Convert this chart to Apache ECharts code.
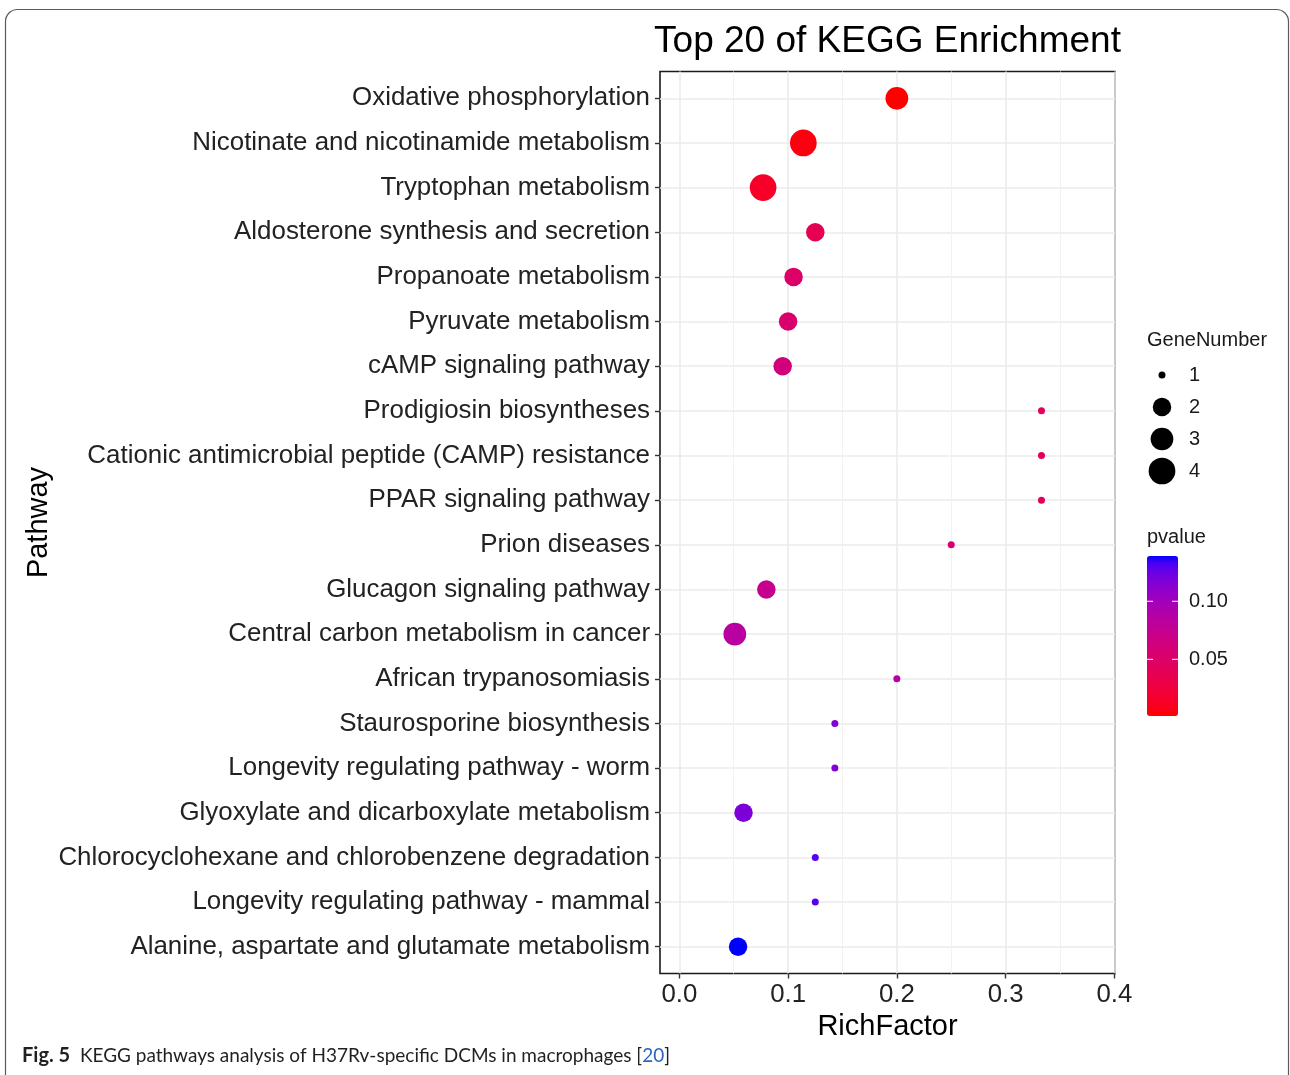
<!DOCTYPE html>
<html><head><meta charset="utf-8">
<script src="https://cdn.jsdelivr.net/npm/echarts@6/dist/echarts.min.js"></script>
<style>html,body{margin:0;padding:0;background:#fff}#c{width:1290px;height:1075px}</style>
</head><body><div id="c"></div>
<script>
// ---------- data ----------
const pathways = [
  'Oxidative phosphorylation',
  'Nicotinate and nicotinamide metabolism',
  'Tryptophan metabolism',
  'Aldosterone synthesis and secretion',
  'Propanoate metabolism',
  'Pyruvate metabolism',
  'cAMP signaling pathway',
  'Prodigiosin biosyntheses',
  'Cationic antimicrobial peptide (CAMP) resistance',
  'PPAR signaling pathway',
  'Prion diseases',
  'Glucagon signaling pathway',
  'Central carbon metabolism in cancer',
  'African trypanosomiasis',
  'Staurosporine biosynthesis',
  'Longevity regulating pathway - worm',
  'Glyoxylate and dicarboxylate metabolism',
  'Chlorocyclohexane and chlorobenzene degradation',
  'Longevity regulating pathway - mammal',
  'Alanine, aspartate and glutamate metabolism'
];
const richFactor = [0.200, 0.114, 0.077, 0.125, 0.105, 0.100, 0.095, 0.333, 0.333, 0.333,
                    0.250, 0.080, 0.051, 0.200, 0.143, 0.143, 0.059, 0.125, 0.125, 0.054];
const pValue     = [0.0012, 0.005, 0.015, 0.038, 0.050, 0.054, 0.063, 0.042, 0.042, 0.042,
                    0.055, 0.073, 0.084, 0.086, 0.116, 0.116, 0.118, 0.129, 0.129, 0.139];
const geneNumber = [3, 4, 4, 2, 2, 2, 2, 1, 1, 1,
                    1, 2, 3, 1, 1, 1, 2, 1, 1, 2];
const xTicks = [0.0, 0.1, 0.2, 0.3, 0.4];
const xMinorTicks = [0.05, 0.15, 0.25, 0.35];
const sizeLegendValues = [1, 2, 3, 4];
const pLegendTicks = [0.05, 0.10];

// ---------- styles ----------
const SIZE_PX = {1: 7, 2: 18.5, 3: 22.7, 4: 26.7};
const FONT = '"Liberation Sans", Arial, sans-serif';
const GRID = {left: 660, top: 71.5, width: 455, height: 902};
const X_MIN = -0.0178, X_MAX = 0.4006;

// Lab interpolation (like ggplot scale_colour_gradient)
function lin(c){c/=255;return c<=0.04045?c/12.92:Math.pow((c+0.055)/1.055,2.4);}
function delin(c){c=c<=0.0031308?12.92*c:1.055*Math.pow(c,1/2.4)-0.055;return Math.max(0,Math.min(255,Math.round(c*255)));}
function rgb2lab(r,g,b){r=lin(r);g=lin(g);b=lin(b);
  let X=(0.4124*r+0.3576*g+0.1805*b)/0.95047,Y=0.2126*r+0.7152*g+0.0722*b,Z=(0.0193*r+0.1192*g+0.9505*b)/1.08883;
  const f=t=>t>0.008856?Math.cbrt(t):7.787*t+16/116;
  const fx=f(X),fy=f(Y),fz=f(Z);return [116*fy-16,500*(fx-fy),200*(fy-fz)];}
function lab2rgb(L,a,bb){const fy=(L+16)/116,fx=fy+a/500,fz=fy-bb/200;
  const fi=t=>t>0.206893?t*t*t:(t-16/116)/7.787;
  const X=fi(fx)*0.95047,Y=fi(fy),Z=fi(fz)*1.08883;
  const r=3.2406*X-1.5372*Y-0.4986*Z,g=-0.9689*X+1.8758*Y+0.0415*Z,b=0.0557*X-0.2040*Y+1.0570*Z;
  return 'rgb('+delin(r)+','+delin(g)+','+delin(b)+')';}
const lo=rgb2lab(255,0,0), hi=rgb2lab(0,0,255);
const ramp=[];for(let i=0;i<=24;i++){const t=i/24;ramp.push(lab2rgb(lo[0]+(hi[0]-lo[0])*t,lo[1]+(hi[1]-lo[1])*t,lo[2]+(hi[2]-lo[2])*t));}

const pMin=Math.min(...pValue), pMax=Math.max(...pValue);
const CB={x:1147,y:556,w:31,h:160};
const idx = pathways.map((_,i)=>i);

const graphics=[];
graphics.push({type:'rect',shape:{x:5.5,y:9.5,width:1283,height:1120,r:12},style:{fill:'none',stroke:'#5a5a5a',lineWidth:1.2},silent:true});
graphics.push({type:'text',x:GRID.left+GRID.width/2,y:42,style:{text:'Top 20 of KEGG Enrichment',font:'37px '+FONT,fill:'#000',align:'center',verticalAlign:'middle'}});
graphics.push({type:'text',x:1147,y:340,style:{text:'GeneNumber',font:'20px '+FONT,fill:'#1a1a1a',verticalAlign:'middle'}});
sizeLegendValues.forEach((v,i)=>{
  const y=375+i*32;
  graphics.push({type:'circle',shape:{cx:1162,cy:y,r:SIZE_PX[v]/2},style:{fill:'#000'}});
  graphics.push({type:'text',x:1189,y:y,style:{text:String(v),font:'20px '+FONT,fill:'#1a1a1a',verticalAlign:'middle'}});
});
graphics.push({type:'text',x:1147,y:537,style:{text:'pvalue',font:'20px '+FONT,fill:'#1a1a1a',verticalAlign:'middle'}});
pLegendTicks.forEach(v=>{
  const y=CB.y+CB.h*(pMax-v)/(pMax-pMin);
  graphics.push({type:'line',shape:{x1:CB.x,y1:y,x2:CB.x+6,y2:y},style:{stroke:'#fff',lineWidth:1},z:100});
  graphics.push({type:'line',shape:{x1:CB.x+CB.w-6,y1:y,x2:CB.x+CB.w,y2:y},style:{stroke:'#fff',lineWidth:1},z:100});
  graphics.push({type:'text',x:1189,y:y,style:{text:v.toFixed(2),font:'20px '+FONT,fill:'#1a1a1a',verticalAlign:'middle'}});
});
graphics.push({type:'text',x:22,y:1056,style:{
  text:'{b|Fig. 5}  KEGG pathways analysis of H37Rv-specific DCMs in macrophages [{l|20}]',
  font:'19px Lato, sans-serif',fill:'#231f20',verticalAlign:'middle',
  rich:{b:{fontWeight:'bold',fontFamily:'Lato, sans-serif',fontSize:20,fill:'#231f20'},l:{fontFamily:'Lato, sans-serif',fontSize:19,fill:'#2b64c4'}}}});

const chart=echarts.init(document.getElementById('c'),null,{renderer:'canvas'});
chart.setOption({
  animation:false,
  backgroundColor:'#fff',
  grid:{left:GRID.left,top:GRID.top,width:GRID.width,height:GRID.height,show:true,borderColor:'#1a1a1a',borderWidth:1.6,backgroundColor:'transparent'},
  xAxis:[{
    type:'value',min:X_MIN,max:X_MAX,position:'bottom',
    axisLine:{show:false,onZero:false},
    axisTick:{show:true,length:5,customValues:xTicks,lineStyle:{color:'#333',width:1.4}},
    axisLabel:{customValues:xTicks,formatter:v=>v.toFixed(1),fontSize:25.8,fontFamily:FONT,color:'#222',margin:8},
    splitLine:{show:true,lineStyle:{color:'#ebebeb',width:1.6}},
    name:'RichFactor',nameLocation:'middle',nameGap:34,nameTextStyle:{fontSize:29,fontFamily:FONT,color:'#000'}
  },{
    type:'value',min:X_MIN,max:X_MAX,position:'bottom',
    axisLine:{show:false,onZero:false},axisLabel:{show:false},
    axisTick:{show:false,customValues:xMinorTicks},
    splitLine:{show:true,lineStyle:{color:'#f1f1f1',width:0.9}}
  }],
  yAxis:{
    type:'value',inverse:true,min:-0.6,max:pathways.length-0.4,
    axisLine:{show:false,onZero:false},
    axisTick:{show:true,length:5,customValues:idx,lineStyle:{color:'#333',width:1.4}},
    axisLabel:{customValues:idx,formatter:v=>pathways[Math.round(v)],fontSize:25.9,fontFamily:FONT,color:'#222',margin:10,padding:[3,0,0,0]},
    splitLine:{show:true,lineStyle:{color:'#ebebeb',width:1.6}},
    name:'Pathway',nameLocation:'middle',nameGap:607,nameRotate:90,nameTextStyle:{fontSize:29,fontFamily:FONT,color:'#000'}
  },
  visualMap:{
    type:'continuous',dimension:2,seriesIndex:0,min:pMin,max:pMax,
    inRange:{color:ramp},
    left:CB.x,top:CB.y,itemWidth:CB.w,itemHeight:CB.h,padding:0,
    text:null,showLabel:false,calculable:false,hoverLink:false
  },
  series:[{
    type:'scatter',xAxisIndex:0,yAxisIndex:0,z:5,
    data:pathways.map((p,i)=>[richFactor[i],i,pValue[i],geneNumber[i]]),
    symbolSize:d=>SIZE_PX[d[3]],
    itemStyle:{opacity:1}
  }],
  graphic:graphics
});
</script></body></html>
